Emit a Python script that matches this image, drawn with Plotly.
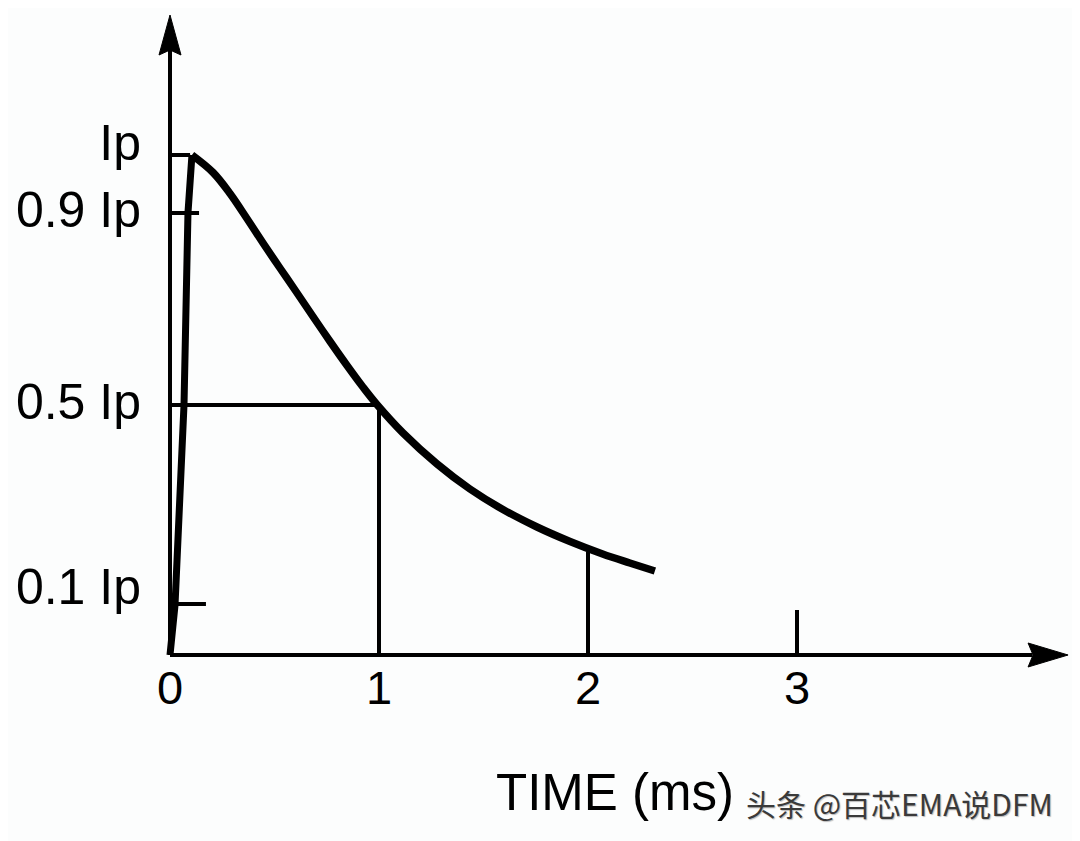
import plotly.graph_objects as go

# ---- data (time in ms, current as fraction of Ip) ----
rise_t = [0.0, 0.024, 0.067, 0.086, 0.105]
rise_i = [0.0, 0.10, 0.50, 0.884, 1.0]

decay_t = [0.105, 0.206, 0.287, 0.368, 0.445, 0.526, 0.608, 0.684, 0.766, 0.847,
           0.923, 0.99, 1.115, 1.278, 1.435, 1.593, 1.756, 1.914, 2.07, 2.2, 2.32]
decay_i = [1.0, 0.965, 0.923, 0.873, 0.824, 0.774, 0.724, 0.677, 0.627, 0.579,
           0.536, 0.501, 0.444, 0.382, 0.332, 0.291, 0.256, 0.227, 0.202, 0.184, 0.168]

x_tick_vals = [0, 1, 2, 3]
x_tick_text = ["0", "1", "2", "3"]
y_tick_vals = [1.025, 0.892, 0.508, 0.138]
y_tick_text = ["Ip", "0.9 Ip", "0.5 Ip", "0.1 Ip"]

# short level marks on the current axis: (level, end time)
mark_levels = [1.0, 0.884, 0.102]
mark_ends = [0.096, 0.139, 0.172]

# half-value construction line and time markers
half_level = 0.5
half_time = 1.0
time_marks = [1.0, 2.0, 3.0]
time_mark_tops = [0.5, 0.206, 0.09]

x_axis_end = 4.297
y_axis_end = 1.28

FONT = "Liberation Sans, Arial, sans-serif"
BLACK = "#000000"

# page body has an 8px margin; figure is sized/positioned to compensate
W, H = 1072, 833
OFF = 8
OX, OY = 170 - OFF, 655 - OFF   # origin in figure pixels
SX, SY = 209.0, 500.0           # pixels per ms, pixels per Ip


def px(xr):
    return (xr - OFF) / W


def py(yr):
    return 1 - (yr - OFF) / H


fig = go.Figure()

line_kw = dict(hoverinfo="skip", showlegend=False, mode="lines")

# axes lines
fig.add_trace(go.Scatter(x=[0, x_axis_end - 0.17], y=[0, 0],
                         line=dict(color=BLACK, width=4), **line_kw))
fig.add_trace(go.Scatter(x=[0, 0], y=[0, y_axis_end - 0.07],
                         line=dict(color=BLACK, width=4), **line_kw))

# level marks
for lv, ex in zip(mark_levels, mark_ends):
    fig.add_trace(go.Scatter(x=[0, ex], y=[lv, lv],
                             line=dict(color=BLACK, width=4), **line_kw))

# 0.5 Ip horizontal
fig.add_trace(go.Scatter(x=[0, half_time], y=[half_level, half_level],
                         line=dict(color=BLACK, width=4), **line_kw))
# vertical time marks
for t, top in zip(time_marks, time_mark_tops):
    fig.add_trace(go.Scatter(x=[t, t], y=[0, top],
                             line=dict(color=BLACK, width=4), **line_kw))

# pulse curve
fig.add_trace(go.Scatter(x=rise_t, y=rise_i,
                         line=dict(color=BLACK, width=7), **line_kw))
fig.add_trace(go.Scatter(x=decay_t, y=decay_i,
                         line=dict(color=BLACK, width=7.5, shape="spline", smoothing=1.0),
                         **line_kw))

# arrowheads (pixel-sized paths anchored at axis tips)
fig.add_shape(type="path", xref="x", yref="y", xsizemode="pixel", ysizemode="pixel",
              xanchor=x_axis_end, yanchor=0,
              path="M 0 0 L -40 12 L -35 0 L -40 -12 Z",
              fillcolor=BLACK, line=dict(color=BLACK, width=1))
fig.add_shape(type="path", xref="x", yref="y", xsizemode="pixel", ysizemode="pixel",
              xanchor=0, yanchor=y_axis_end,
              path="M 0 0 L -11 -40 L 0 -35 L 11 -40 Z",
              fillcolor=BLACK, line=dict(color=BLACK, width=1))

# axis title and watermark
fig.add_annotation(text="TIME (ms)", xref="paper", yref="paper",
                   x=px(494), y=py(792), xanchor="left", yanchor="middle",
                   showarrow=False, font=dict(family=FONT, size=51, color=BLACK))
fig.add_annotation(text="头条 @百芯EMA说DFM", xref="paper", yref="paper",
                   x=px(744), y=py(803), xanchor="left", yanchor="middle",
                   showarrow=False,
                   font=dict(family="Noto Sans CJK SC, sans-serif", size=30, color="#3a3a3a",
                             shadow="1px 1px 1px #bbbbbb"))

fig.update_layout(
    width=W, height=H,
    margin=dict(l=0, r=0, t=0, b=0),
    paper_bgcolor="#fcfdfd", plot_bgcolor="#fcfdfd",
    showlegend=False,
    xaxis=dict(range=[-OX / SX, (W - OX) / SX], domain=[0, 1],
               anchor="free", position=1 - OY / H,
               showgrid=False, zeroline=False, showline=False, ticks="",
               tickvals=x_tick_vals, ticktext=x_tick_text, ticklabelstandoff=1,
               tickfont=dict(family=FONT, size=47, color=BLACK), fixedrange=True),
    yaxis=dict(range=[(OY - H) / SY, OY / SY], domain=[0, 1],
               anchor="free", position=OX / W,
               showgrid=False, zeroline=False, showline=False, ticks="",
               tickvals=y_tick_vals, ticktext=y_tick_text, ticklabelstandoff=29,
               tickfont=dict(family=FONT, size=50, color=BLACK), fixedrange=True),
)

fig.write_html("out.html")
